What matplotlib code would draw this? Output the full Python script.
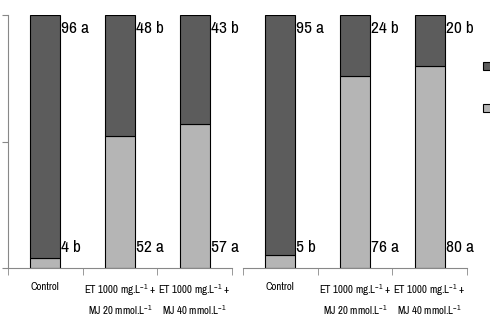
import matplotlib
matplotlib.use("Agg")
import matplotlib.pyplot as plt
from matplotlib.patches import Rectangle
from matplotlib import font_manager

categories = ["Control",
              "ET 1000 mg.L$^{-1}$ +\nMJ 20 mmol.L$^{-1}$",
              "ET 1000 mg.L$^{-1}$ +\nMJ 40 mmol.L$^{-1}$"]
left_light = [4, 52, 57]
left_dark = [96, 48, 43]
left_light_lbl = ["4 b", "52 a", "57 a"]
left_dark_lbl = ["96 a", "48 b", "43 b"]
right_light = [5, 76, 80]
right_dark = [95, 24, 20]
right_light_lbl = ["5 b", "76 a", "80 a"]
right_dark_lbl = ["95 a", "24 b", "20 b"]

# look for a narrow / condensed face
fam, stretch = "Liberation Sans", "normal"
for f in font_manager.fontManager.ttflist:
    if "Narrow" in f.name:
        fam, stretch = f.name, "normal"
        break
else:
    for f in font_manager.fontManager.ttflist:
        if "condensed" in f.fname.lower() and "sans" in f.name.lower() and "bold" not in f.fname.lower() \
                and "oblique" not in f.fname.lower() and "italic" not in f.fname.lower():
            fam, stretch = f.name, "condensed"
            break
narrow = stretch == "condensed" or "Narrow" in fam
plt.rcParams['font.family'] = [fam, 'DejaVu Sans']
plt.rcParams['font.stretch'] = stretch
plt.rcParams['mathtext.fontset'] = 'custom'
plt.rcParams['mathtext.rm'] = fam
plt.rcParams['mathtext.it'] = fam

VAL_FS = 12.5 if narrow else 10
TICK_FS = 7.8 if narrow else 6.3

DARK = "#5c5c5c"
LIGHT = "#b5b5b5"
W, H = 490, 318
fig = plt.figure(figsize=(4.9, 3.18), dpi=100)

def panel(x0, x1, light, dark, llbl, dlbl, show_y):
    ax = fig.add_axes([x0 / W, 1 - 268 / H, (x1 - x0) / W, (268 - 15) / H])
    xs = list(range(len(categories)))
    ax.bar(xs, light, width=0.4, color=LIGHT, edgecolor="black", linewidth=0.8)
    ax.bar(xs, dark, bottom=light, width=0.4, color=DARK, edgecolor="black", linewidth=0.8)
    for i in xs:
        ax.text(i + 0.215, 94.5, dlbl[i], fontsize=VAL_FS, va="center", ha="left")
        ax.text(i + 0.215, 8, llbl[i], fontsize=VAL_FS, va="center", ha="left")
    ax.set_xlim(-0.5, 2.5)
    ax.set_ylim(0, 100)
    ax.set_xticks(xs)
    ax.set_xticklabels(categories, fontsize=TICK_FS, linespacing=1.45)
    ax.tick_params(axis="x", which="major", length=0, pad=10)
    ax.set_xticks([-0.5, 0.5, 1.5, 2.5], minor=True)
    ax.tick_params(axis="x", which="minor", length=5, color="#888888", direction="out")
    for s in ["top", "right"]:
        ax.spines[s].set_visible(False)
    ax.spines["bottom"].set_color("#888888")
    if show_y:
        ax.spines["left"].set_color("#888888")
        ax.set_yticks([0, 50, 100])
        ax.set_yticklabels([])
        ax.tick_params(axis="y", length=4, color="#888888")
    else:
        ax.spines["left"].set_visible(False)
        ax.set_yticks([])
    return ax

panel(8, 232, left_light, left_dark, left_light_lbl, left_dark_lbl, True)
panel(243, 467, right_light, right_dark, right_light_lbl, right_dark_lbl, False)

for yy, c in [(62, DARK), (104, LIGHT)]:
    fig.patches.append(Rectangle((483 / W, 1 - (yy + 8) / H), 9 / W, 8 / H,
                                 transform=fig.transFigure, facecolor=c,
                                 edgecolor="black", linewidth=0.8))

fig.savefig("out.png", dpi=100)
